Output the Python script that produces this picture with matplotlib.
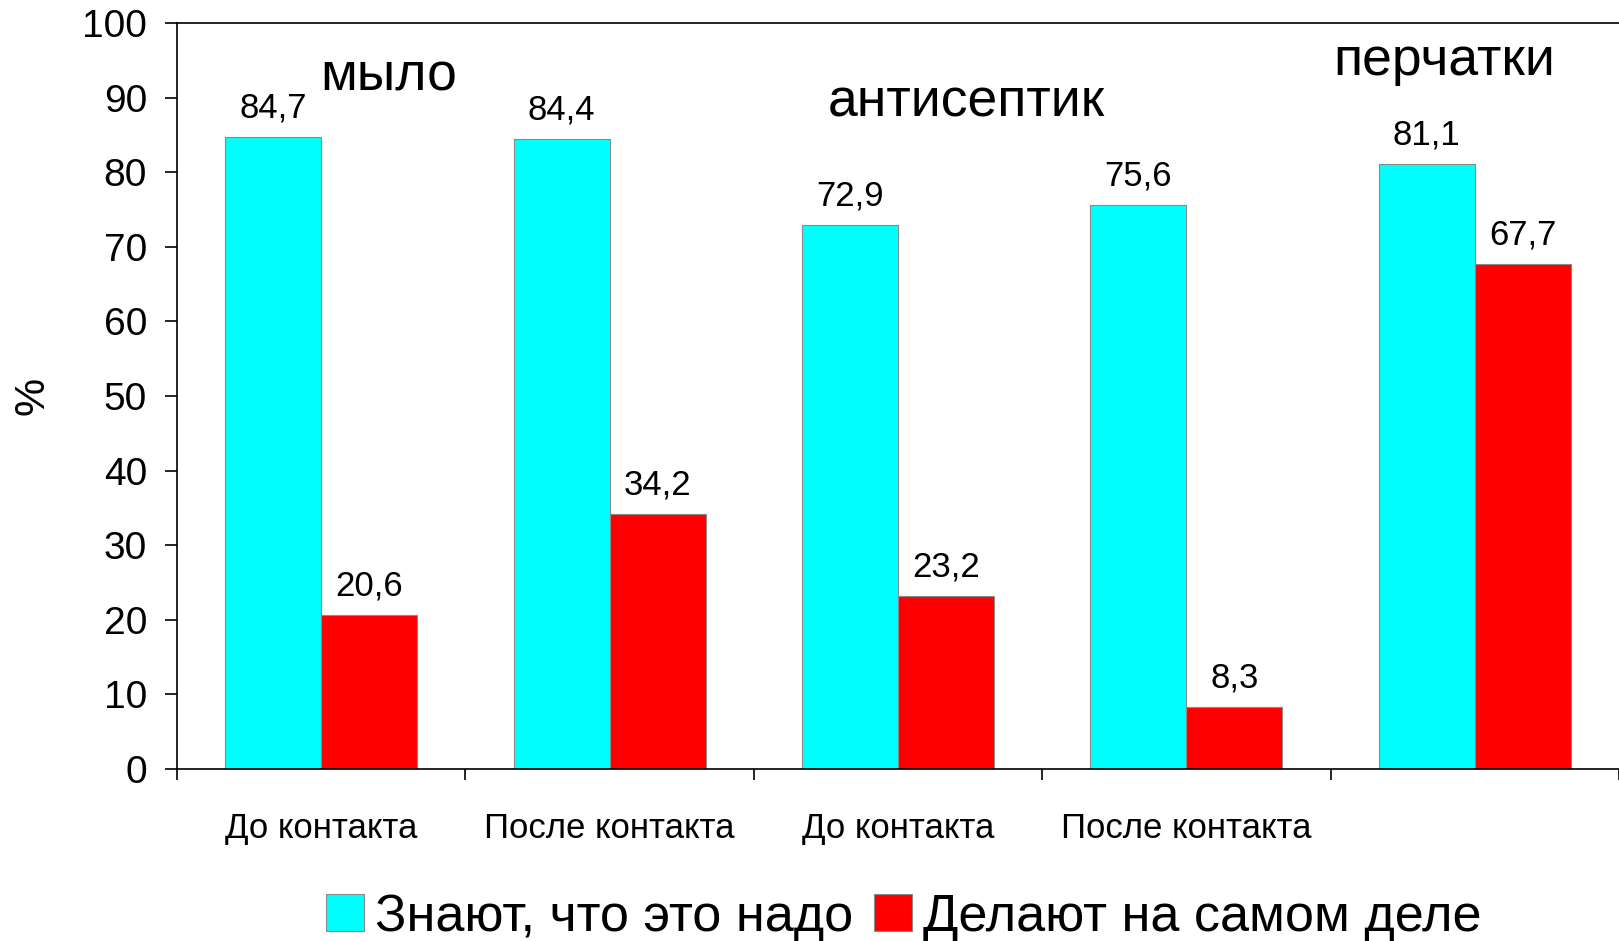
import numpy as np
import matplotlib
matplotlib.use("Agg")
from matplotlib import pyplot as plt

plt.rcParams['font.family'] = ['Liberation Sans', 'DejaVu Sans']

groups = ["До контакта", "После контакта", "До контакта", "После контакта", ""]
know = [84.7, 84.4, 72.9, 75.6, 81.1]
do = [20.6, 34.2, 23.2, 8.3, 67.7]
know_name = "Знают, что это надо"
do_name = "Делают на самом деле"
notes = ["мыло", "антисептик", "перчатки"]
note_x = [0.235, 2.237, 3.895]
note_y = [91.0, 87.4, 93.0]

W, H = 1619, 941
fig = plt.figure(figsize=(W / 100, H / 100), dpi=100)
left, bottom, top = 177, 769, 23
ax = fig.add_axes([left / W, 1 - bottom / H, 1 - left / W, (bottom - top) / H])

x = np.arange(len(groups))
w = 0.333
b1 = ax.bar(x - w / 2, know, w, color="#00ffff", edgecolor="#8a8a8a", linewidth=0.8, label=know_name)
b2 = ax.bar(x + w / 2, do, w, color="#ff0000", edgecolor="#8a8a8a", linewidth=0.8, label=do_name)

for bars, vals in [(b1, know), (b2, do)]:
    for r, v in zip(bars, vals):
        ax.annotate(str(v).replace(".", ","), (r.get_x() + r.get_width() / 2, v),
                    xytext=(0, 14), textcoords="offset points",
                    ha="center", va="baseline", fontsize=25)

for t, nx, ny in zip(notes, note_x, note_y):
    ax.text(nx, ny, t, ha="center", va="baseline", fontsize=38.5)

ax.set_xlim(-0.5, -0.5 + (W - left) / 291)
ax.set_ylim(0, 100)
ax.set_yticks(range(0, 101, 10))
ax.tick_params(axis="y", labelsize=28, length=8.6, width=1.2, pad=13)

ax.set_xticks(np.arange(-0.5, 4.6, 1.0))
ax.set_xticklabels([])
ax.set_xticks(x, groups, minor=True)
ax.tick_params(axis="x", which="major", length=8, width=1.2)
ax.tick_params(axis="x", which="minor", length=0, labelsize=25, pad=31)

for s in ["left", "top", "bottom"]:
    ax.spines[s].set_linewidth(1.2)
ax.spines["right"].set_visible(False)

fig.text(32 / W, 1 - 396 / H, "%", rotation=90, ha="center", va="center", fontsize=31)

fig.legend(loc="center", bbox_to_anchor=(904 / W, 1 - 917 / H), ncol=2,
           frameon=False, fontsize=37.5, handlelength=0.72, handleheight=0.72,
           handletextpad=0.22, columnspacing=0.4, borderpad=0, borderaxespad=0)

fig.savefig("out.png", dpi=100)
